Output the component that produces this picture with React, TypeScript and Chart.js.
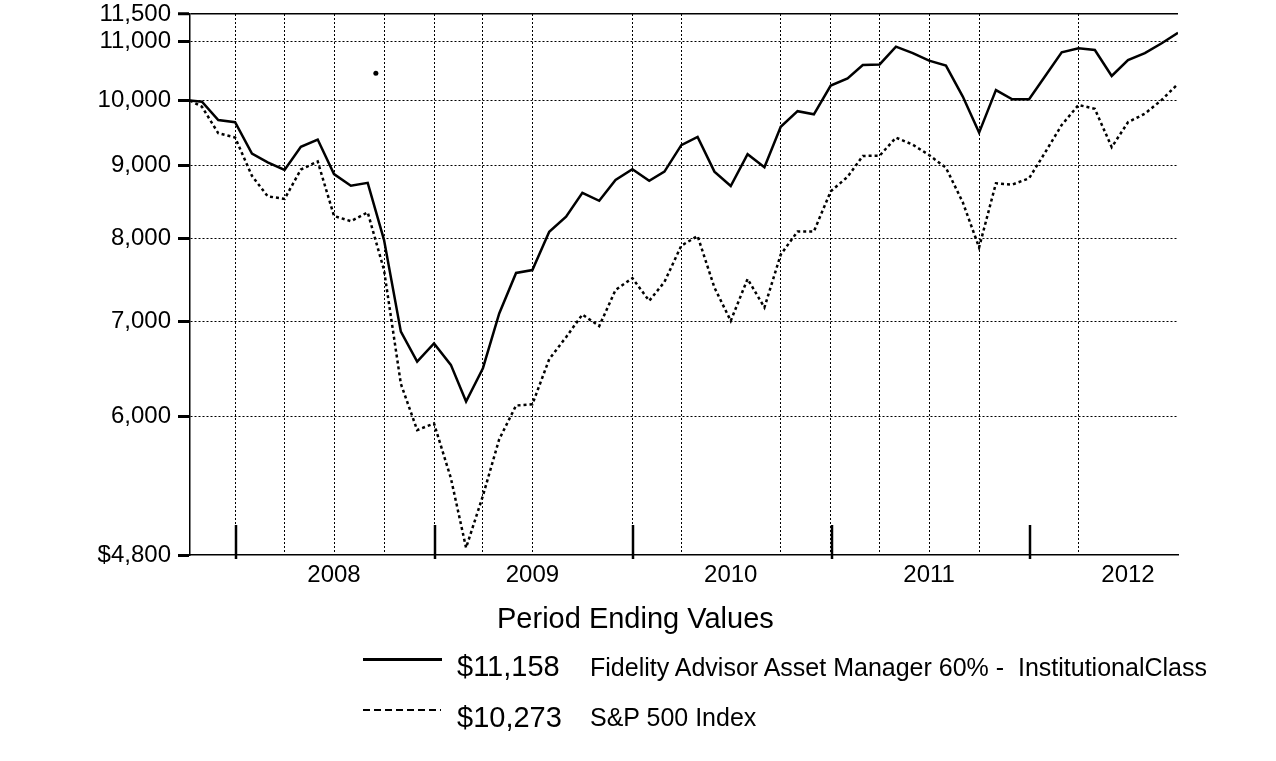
import React, { useEffect, useRef } from 'react';
import { Chart, registerables } from 'chart.js';

Chart.register(...registerables);
Chart.defaults.font.family = "'Liberation Sans', Arial, sans-serif";

// Period end dates (inception, then month ends)
const dates = [
  '2007-10-09', '2007-10-31', '2007-11-30', '2007-12-31',
  '2008-01-31', '2008-02-29', '2008-03-31', '2008-04-30', '2008-05-31', '2008-06-30',
  '2008-07-31', '2008-08-31', '2008-09-30', '2008-10-31', '2008-11-30', '2008-12-31',
  '2009-01-31', '2009-02-28', '2009-03-31', '2009-04-30', '2009-05-31', '2009-06-30',
  '2009-07-31', '2009-08-31', '2009-09-30', '2009-10-31', '2009-11-30', '2009-12-31',
  '2010-01-31', '2010-02-28', '2010-03-31', '2010-04-30', '2010-05-31', '2010-06-30',
  '2010-07-31', '2010-08-31', '2010-09-30', '2010-10-31', '2010-11-30', '2010-12-31',
  '2011-01-31', '2011-02-28', '2011-03-31', '2011-04-30', '2011-05-31', '2011-06-30',
  '2011-07-31', '2011-08-31', '2011-09-30', '2011-10-31', '2011-11-30', '2011-12-31',
  '2012-01-31', '2012-02-29', '2012-03-31', '2012-04-30', '2012-05-31', '2012-06-30',
  '2012-07-31', '2012-08-31', '2012-09-30',
];

const fundValues = [
  10000, 9980, 9690, 9655,
  9180, 9050, 8940, 9280, 9390, 8880,
  8715, 8755, 7985, 6885, 6560, 6755,
  6525, 6150, 6490, 7090, 7570, 7605,
  8090, 8290, 8615, 8505, 8795, 8950,
  8785, 8915, 9305, 9430, 8915, 8710,
  9170, 8980, 9585, 9830, 9780, 10245,
  10365, 10590, 10600, 10910, 10795, 10665,
  10580, 10065, 9495, 10170, 10020, 10020,
  10420, 10810, 10880, 10850, 10405, 10675,
  10795, 10970, 11158,
];

const sp500Values = [
  10000, 9900, 9486, 9421,
  8855, 8567, 8531, 8946, 9063, 8299,
  8229, 8348, 7605, 6328, 5873, 5936,
  5435, 4856, 5282, 5787, 6111, 6123,
  6586, 6824, 7078, 6947, 7364, 7506,
  7236, 7460, 7910, 8035, 7393, 7006,
  7497, 7159, 7798, 8094, 8095, 8636,
  8841, 9144, 9148, 9419, 9312, 9157,
  8971, 8484, 7888, 8750, 8731, 8820,
  9215, 9613, 9929, 9867, 9274, 9656,
  9790, 10010, 10273,
];

const strayDotDate = '2008-09-15';
const strayDotValue = 10450;

const yTickValues = [4800, 6000, 7000, 8000, 9000, 10000, 11000, 11500];

const quarterEnds = [
  '2007-12-31', '2008-03-31', '2008-06-30', '2008-09-30', '2008-12-31',
  '2009-03-31', '2009-06-30', '2009-09-30', '2009-12-31',
  '2010-03-31', '2010-06-30', '2010-09-30', '2010-12-31',
  '2011-03-31', '2011-06-30', '2011-09-30', '2011-12-31',
  '2012-03-31', '2012-06-30',
];
const hiddenGridDates = ['2009-09-30', '2010-06-30', '2011-12-31', '2012-06-30'];
const yearBoundaries = ['2007-12-31', '2008-12-31', '2009-12-31', '2010-12-31', '2011-12-31'];
const yearLabelDates = ['2008-06-30', '2009-06-30', '2010-06-30', '2011-06-30', '2012-06-30'];
const yearLabels = ['2008', '2009', '2010', '2011', '2012'];

const legendTitle = 'Period Ending Values';
const legendValues = ['$11,158', '$10,273'];
const legendNames = ['Fidelity Advisor Asset Manager 60% -  InstitutionalClass', 'S&P 500 Index'];

const DAY0 = Date.parse(dates[0]);
const toDay = (d: string) => (Date.parse(d) - DAY0) / 86400000;

const hiddenDays = hiddenGridDates.map(toDay);

const yearTickPlugin = {
  id: 'yearTicks',
  afterDraw(chart: any) {
    const { ctx, chartArea, scales } = chart;
    ctx.save();
    ctx.strokeStyle = '#000';
    ctx.lineWidth = 2.5;
    yearBoundaries.forEach((d) => {
      const x = Math.round(scales.x.getPixelForValue(toDay(d))) + 1;
      ctx.beginPath();
      ctx.moveTo(x, chartArea.bottom - 30);
      ctx.lineTo(x, chartArea.bottom + 4);
      ctx.stroke();
    });
    ctx.restore();
  },
};

const fmt = (v: number) => v.toLocaleString('en-US');

export default function App() {
  const canvasRef = useRef<HTMLCanvasElement | null>(null);

  useEffect(() => {
    const canvas = canvasRef.current;
    if (!canvas) return;
    const chart = new Chart(canvas, {
      type: 'line',
      data: {
        datasets: [
          {
            label: legendNames[0],
            data: dates.map((d, i) => ({ x: toDay(d), y: fundValues[i] })),
            borderColor: '#000',
            backgroundColor: '#000',
            borderWidth: 2.5,
            pointRadius: 0,
            tension: 0,
            fill: false,
          },
          {
            label: legendNames[1],
            data: dates.map((d, i) => ({ x: toDay(d), y: sp500Values[i] })),
            borderColor: '#000',
            backgroundColor: '#000',
            borderWidth: 2.5,
            borderDash: [3, 3],
            pointRadius: 0,
            tension: 0,
            fill: false,
          },
          {
            label: 'dot',
            data: [{ x: toDay(strayDotDate), y: strayDotValue }],
            showLine: false,
            pointRadius: 2.5,
            pointBackgroundColor: '#000',
            pointBorderColor: '#000',
            borderWidth: 0,
          },
        ],
      },
      options: {
        responsive: false,
        animation: false,
        events: [],
        layout: { padding: { left: 0, top: 14, right: 98, bottom: 156 } },
        plugins: {
          legend: { display: false },
          tooltip: { enabled: false },
          title: { display: false },
        },
        scales: {
          x: {
            type: 'linear',
            min: 0,
            max: toDay(dates[dates.length - 1]),
            afterBuildTicks: (s: any) => {
              s.ticks = quarterEnds.map((d) => ({ value: toDay(d) }));
            },
            afterFit: (s: any) => {
              s.height = 50;
              s.paddingLeft = 0;
              s.paddingRight = 0;
            },
            ticks: {
              autoSkip: false,
              maxRotation: 0,
              minRotation: 0,
              padding: 6,
              color: '#000',
              font: { size: 24 },
              callback: (v: any) => {
                const idx = yearLabelDates.findIndex((d) => toDay(d) === v);
                return idx >= 0 ? yearLabels[idx] : '';
              },
            },
            grid: {
              drawTicks: false,
              lineWidth: 1,
              color: (c: any) =>
                c.tick && hiddenDays.includes(c.tick.value) ? 'rgba(0,0,0,0)' : '#000',
            },
            border: { display: true, color: '#000', width: 1.5, dash: [2, 2] },
          },
          y: {
            type: 'logarithmic',
            position: 'left',
            min: 4800,
            max: 11500,
            afterBuildTicks: (s: any) => {
              s.ticks = yTickValues.map((v) => ({ value: v }));
            },
            afterFit: (s: any) => {
              s.width = 190;
              s.paddingTop = 0;
              s.paddingBottom = 0;
            },
            ticks: {
              autoSkip: false,
              padding: 7,
              color: '#000',
              font: { size: 24 },
              callback: (v: any) => (v === yTickValues[0] ? '$' + fmt(v) : fmt(v)),
            },
            grid: {
              drawTicks: true,
              tickLength: 12,
              tickWidth: 3,
              tickColor: '#000',
              lineWidth: (c: any) => (c.tick && c.tick.value === 11500 ? 1.5 : 1),
              color: (c: any) =>
                c.tick && c.tick.value === 4800 ? 'rgba(0,0,0,0)' : '#000',
            },
            border: {
              display: true,
              color: '#000',
              width: 1.5,
              dash: (c: any) => (c.tick && c.tick.value === 11500 ? [] : [2, 2]),
            },
          },
        },
      } as any,
      plugins: [yearTickPlugin],
    });
    return () => chart.destroy();
  }, []);

  const font = "'Liberation Sans', Arial, sans-serif";
  const textStyle = (left: number, top: number, size: number): React.CSSProperties => ({
    position: 'absolute',
    left,
    top,
    fontSize: size,
    lineHeight: `${size}px`,
    fontFamily: font,
    color: '#000',
    whiteSpace: 'pre',
  });

  return (
    <div style={{ position: 'absolute', left: 0, top: 0, width: 1276, height: 761, background: '#fff', overflow: 'hidden' }}>
      <canvas ref={canvasRef} width={1276} height={761} style={{ display: 'block', position: 'absolute', left: 0, top: 0 }} />
      <div style={textStyle(497, 603.5, 29)}>{legendTitle}</div>
      <div style={{ position: 'absolute', left: 363, top: 657.5, width: 79, height: 3, background: '#000' }} />
      <div style={textStyle(457, 652, 29)}>{legendValues[0]}</div>
      <div style={textStyle(590, 654.5, 25)}>{legendNames[0]}</div>
      <div
        style={{
          position: 'absolute',
          left: 363,
          top: 709,
          width: 78,
          height: 2,
          background: 'repeating-linear-gradient(to right, #000 0px, #000 7px, transparent 7px, transparent 11px)',
        }}
      />
      <div style={textStyle(457, 703, 29)}>{legendValues[1]}</div>
      <div style={textStyle(590, 705, 25)}>{legendNames[1]}</div>
    </div>
  );
}
